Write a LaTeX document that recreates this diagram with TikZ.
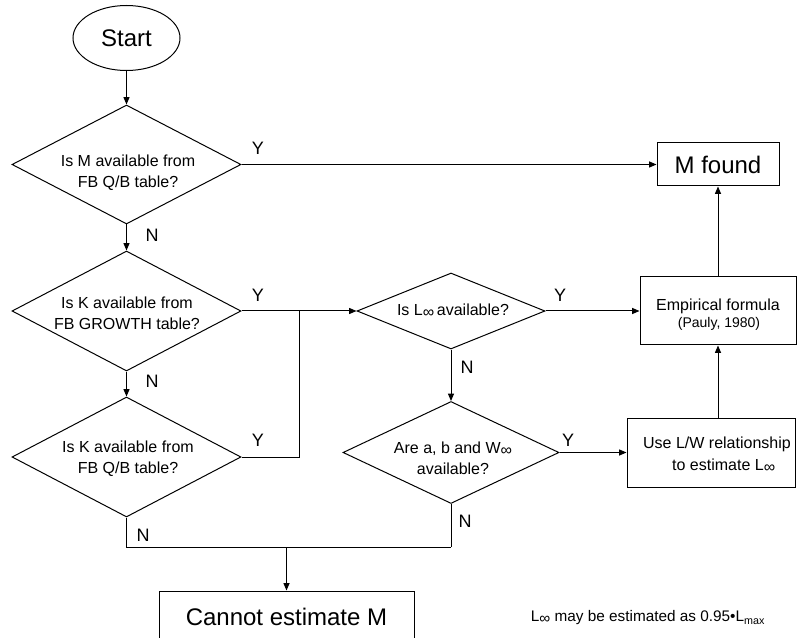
\documentclass[tikz,border=0pt]{standalone}
\usepackage{fontspec}
\setmainfont{Liberation Sans}
\usetikzlibrary{shapes.geometric,arrows.meta}
\newcommand\lowinf{\raisebox{-0.12em}{∞}}
\begin{document}
\begin{tikzpicture}[x=0.75pt,y=-0.75pt, line width=0.75pt,
  dia/.style={diamond, draw, inner sep=0pt},
  box/.style={rectangle, draw, inner sep=0pt, align=center},
  txt/.style={inner sep=0pt, align=center, font=\fontsize{12}{15.75}\selectfont},
  big/.style={font=\fontsize{18}{22}\selectfont},
  yn/.style={inner sep=0pt, font=\fontsize{13.5}{16}\selectfont},
  arr/.style={-{Triangle[length=5.5pt,width=4.5pt]}}]
\clip (0,0) rectangle (797,638);
% terminals and boxes
\node[ellipse, draw, minimum width=80.25pt, minimum height=48.75pt, inner sep=0pt, big] (start) at (126.5,38) {Start};
\node[box, big, minimum width=91.5pt, minimum height=32.25pt] (mf) at (718,164.5) {M found};
\node[box, minimum width=117pt, minimum height=51pt] (emp) at (718,311) {};
\node[txt] (empt1) at (718,306) {Empirical formula};
\node[inner sep=0pt, font=\fontsize{10.5}{12}\selectfont] (empt2) at (719,324) {(Pauly, 1980)};
\node[box, minimum width=126pt, minimum height=51.75pt] (use) at (711,452.5) {};
\node[txt, font=\fontsize{12}{16.5}\selectfont] (uset) at (717,455) {Use L/W relationship\\\hspace*{10pt}to estimate L\lowinf};
\node[box, big, minimum width=191.25pt, minimum height=39pt] (cannot) at (286.5,617) {Cannot estimate M};
% decisions
\node[dia, minimum width=171.75pt, minimum height=89.25pt] (d1) at (126.5,164.5) {};
\node[txt] (d1t) at (128,173) {Is M available from\\FB Q/B table?};
\node[dia, minimum width=171.75pt, minimum height=90pt] (d2) at (126.5,311) {};
\node[txt] (d2t) at (127,313.5) {Is K available from\\FB GROWTH table?};
\node[dia, minimum width=171.75pt, minimum height=90pt] (d3) at (126.5,457) {};
\node[txt] (d3t) at (128,458.5) {Is K available from\\FB Q/B table?};
\node[dia, minimum width=141pt, minimum height=57pt] (d4) at (451,311) {};
\node[txt] (d4t) at (453,311) {Is L\lowinf\,available?};
\node[dia, minimum width=162pt, minimum height=76.5pt] (d5) at (451,452.5) {};
\node[txt] (d5t) at (453,458) {Are a, b and W\lowinf\\available?};
% note
\node[inner sep=0pt, font=\fontsize{11.5}{14}\selectfont] (note) at (648,618) {L\lowinf\ may be estimated as 0.95•L\textsubscript{max}};
% junction points
\coordinate (j1) at (299,311);
\coordinate (b2) at (451,547);
\coordinate (b3) at (286.5,547);
% connectors
\draw[arr] (start) -- (d1);
\draw[arr] (d1.east) -- (mf.west);
\draw[arr] (d1) -- (d2);
\draw[arr] (d2) -- (d3);
\draw[arr] (d2.east) -- (d4.west);
\draw (d3.east) -| (j1);
\draw (d3.south) |- (b2);
\draw (d5.south) -- (b2);
\draw[arr] (b3) -- (cannot);
\draw[arr] (d4) -- (d5);
\draw[arr] (d4.east) -- (emp.west);
\draw[arr] (d5.east) -- (use.west);
\draw[arr] (emp) -- (mf);
\draw[arr] (use.north -| emp.south) -- (emp.south);
% labels
\node[yn] (y1) at (258,148) {Y};
\node[yn] (n1) at (152,235) {N};
\node[yn] (y2) at (258,295) {Y};
\node[yn] (n2) at (152,381) {N};
\node[yn] (y3) at (258,440) {Y};
\node[yn] (n3) at (143,535) {N};
\node[yn] (y4) at (560,295) {Y};
\node[yn] (n4) at (467,367) {N};
\node[yn] (y5) at (568,440) {Y};
\node[yn] (n5) at (465,521) {N};
\end{tikzpicture}
\end{document}
